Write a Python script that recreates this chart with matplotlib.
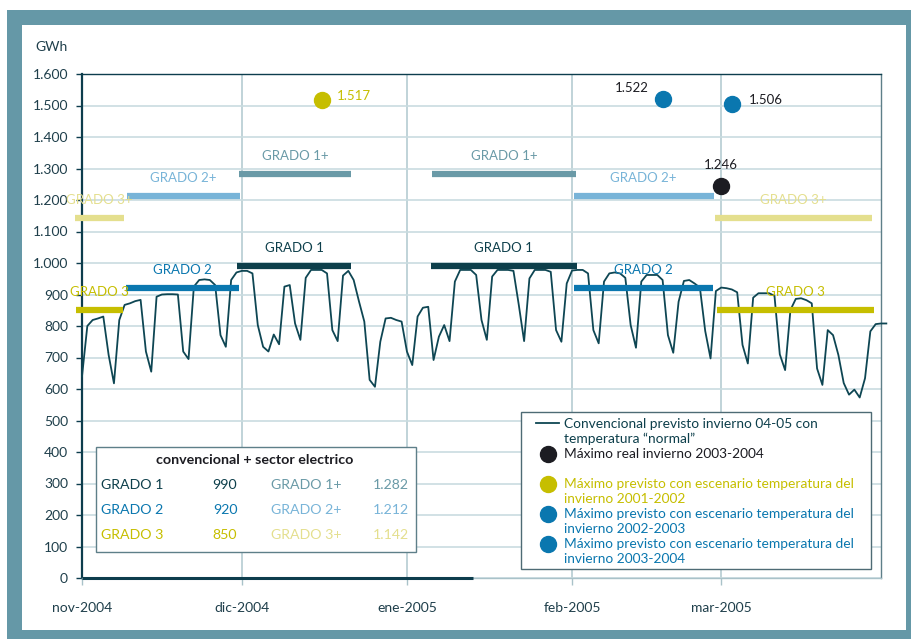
import matplotlib
matplotlib.use("Agg")
import matplotlib.pyplot as plt
import matplotlib.dates as mdates
from matplotlib.patches import Rectangle
from matplotlib.lines import Line2D
import pandas as pd
import numpy as np

plt.rcParams['font.family'] = ['Lato', 'DejaVu Sans']

# ---------------- data ----------------
start_date = "2004-11-01"
demand = [640, 800, 819, 824, 830, 708, 618, 819, 867, 872, 879, 883, 719, 655,
          893, 900, 901, 901, 900, 719, 695, 925, 946, 948, 946, 930, 771, 734,
          946, 970, 975, 975, 967, 803, 734, 719, 773, 742, 925, 930, 808, 756,
          953, 978, 978, 978, 967, 787, 752, 960, 975, 946, 878, 814, 629, 607,
          750, 824, 826, 819, 814, 719, 676, 830, 858, 861, 692, 766, 803, 752,
          941, 978, 978, 978, 962, 819, 756, 957, 978, 978, 978, 975, 867, 752,
          951, 978, 978, 978, 972, 787, 750, 935, 976, 978, 978, 967, 787, 745,
          941, 967, 970, 967, 953, 803, 731, 941, 962, 962, 962, 946, 771, 715,
          877, 943, 946, 935, 922, 784, 697, 911, 922, 920, 916, 907, 740, 681,
          890, 904, 904, 904, 896, 710, 660, 851, 886, 888, 882, 872, 665, 613,
          787, 771, 708, 619, 582, 598, 573, 634, 783, 806, 808, 808]
zero_segment_days = [0, 73.4]

band_labels = ["GRADO 3", "GRADO 3+", "GRADO 2", "GRADO 2+", "GRADO 1", "GRADO 1+",
               "GRADO 1", "GRADO 1+", "GRADO 2", "GRADO 2+", "GRADO 3", "GRADO 3+"]
band_values = [850, 1142, 920, 1212, 990, 1282, 990, 1282, 920, 1212, 850, 1142]
band_start_day = [-1.1, -1.3, 8.3, 8.4, 29.1, 29.5, 65.5, 65.7, 92.3, 92.3, 119.2, 118.8]
band_end_day = [7.7, 7.9, 29.5, 29.7, 50.5, 50.5, 92.9, 92.7, 118.4, 118.6, 148.7, 148.3]

point_dates = ["2004-12-16", "2005-02-18", "2005-03-03", "2005-03-01"]
point_values = [1517, 1522, 1506, 1246]
point_labels = ["1.517", "1.522", "1.506", "1.246"]

month_ticks = ["2004-11-01", "2004-12-01", "2005-01-01", "2005-02-01", "2005-03-01"]
month_labels = ["nov-2004", "dic-2004", "ene-2005", "feb-2005", "mar-2005"]

table_title = "convencional + sector electrico"
table_names = ["GRADO 1", "GRADO 2", "GRADO 3"]
table_vals = ["990", "920", "850"]
table_names_plus = ["GRADO 1+", "GRADO 2+", "GRADO 3+"]
table_vals_plus = ["1.282", "1.212", "1.142"]

legend_texts = [["Convencional previsto invierno 04-05 con", "temperatura \u201cnormal\u201d"],
                ["M\u00e1ximo real invierno 2003-2004"],
                ["M\u00e1ximo previsto con escenario temperatura del", "invierno 2001-2002"],
                ["M\u00e1ximo previsto con escenario temperatura del", "invierno 2002-2003"],
                ["M\u00e1ximo previsto con escenario temperatura del", "invierno 2003-2004"]]

# ---------------- styles ----------------
C_LINE = "#0E4653"
C_G1 = "#0D3F4B"
C_G1P = "#6A9AA7"
C_G2 = "#0A77AF"
C_G2P = "#78B4D8"
C_G3 = "#C6BE00"
C_G3P = "#E4DF8E"
C_BLACK = "#1C1C22"
C_FRAME = "#6598A7"
C_GRID = "#C9DCE0"
C_TXT = "#1F3F4B"
band_colors = {"GRADO 1": C_G1, "GRADO 1+": C_G1P, "GRADO 2": C_G2,
               "GRADO 2+": C_G2P, "GRADO 3": C_G3, "GRADO 3+": C_G3P}
point_colors = [C_G3, C_G2, C_G2, C_BLACK]
point_text_colors = [C_G3, C_BLACK, C_BLACK, C_BLACK]
point_offsets = [(15, 4), (-14, 11), (17, 4), (0, 21)]
point_ha = ["left", "right", "left", "center"]

W, H = 911, 639
fig = plt.figure(figsize=(W / 100, H / 100), dpi=100)
fig.patch.set_facecolor("white")


def fx(x):
    return x / W


def fy(y):
    return 1 - y / H


# frame
fig.add_artist(Rectangle((fx(7), fy(639)), fx(911) - fx(7), fy(10) - fy(639),
                         transform=fig.transFigure, facecolor=C_FRAME, edgecolor="none", zorder=-3))
fig.add_artist(Rectangle((fx(22), fy(630)), fx(906) - fx(22), fy(25) - fy(630),
                         transform=fig.transFigure, facecolor="white", edgecolor="none", zorder=-2))

ax = fig.add_axes([fx(82), fy(578), fx(881) - fx(82), fy(74) - fy(578)])
ax.set_facecolor("white")

base = mdates.date2num(pd.Timestamp(start_date))
dates = pd.date_range(start_date, periods=len(demand), freq="D")

ax.set_ylim(0, 1600)
ax.set_xlim(mdates.date2num(pd.Timestamp("2004-11-01")), mdates.date2num(pd.Timestamp("2005-03-31")))

# grid
ax.set_yticks(np.arange(0, 1601, 100))
ax.yaxis.set_major_formatter(plt.FuncFormatter(lambda v, p: f"{int(v):,}".replace(",", ".")))
ax.grid(axis="y", color=C_GRID, lw=1.2, zorder=0)
tick_nums = [mdates.date2num(pd.Timestamp(t)) for t in month_ticks]
ax.set_xticks(tick_nums)
ax.set_xticklabels(month_labels)
for t in tick_nums[1:]:
    ax.axvline(t, color="#B5CCD2", lw=1.2, zorder=0)

ax.spines["left"].set_color("#0D3D4D")
ax.spines["left"].set_linewidth(1.6)
ax.spines["top"].set_color("#0D3D4D")
ax.spines["top"].set_linewidth(1.0)
ax.spines["right"].set_color("#5E7F89")
ax.spines["right"].set_linewidth(1.0)
ax.spines["bottom"].set_color("#A9C2C9")
ax.spines["bottom"].set_linewidth(1.0)

ax.tick_params(axis="y", length=4, width=1, color="#0D3D4D", pad=6, labelsize=10, labelcolor=C_TXT)
ax.tick_params(axis="x", length=5, width=1, color="#A9C2C9", pad=12, labelsize=10, labelcolor=C_TXT)

# zero segment
ax.plot([base + zero_segment_days[0], base + zero_segment_days[1]], [0, 0],
        color="#0D3D4D", lw=2.2, zorder=3, clip_on=False, solid_capstyle="butt")

# main line
ax.plot(dates, demand, color=C_LINE, lw=1.3, zorder=4, clip_on=False)

# bands
for lab, v, s, e in zip(band_labels, band_values, band_start_day, band_end_day):
    col = band_colors[lab]
    ax.plot([base + s, base + e], [v, v], color=col, lw=4.5, solid_capstyle="butt",
            zorder=5, clip_on=False)
    ax.annotate(lab, xy=(base + (s + e) / 2, v), xytext=(0, 18), textcoords="offset pixels",
                ha="center", va="center", color=col, fontsize=9.5, zorder=6, annotation_clip=False)

# points
for d, v, lab, c, tc, off, ha in zip(point_dates, point_values, point_labels, point_colors,
                                     point_text_colors, point_offsets, point_ha):
    xd = mdates.date2num(pd.Timestamp(d))
    ax.plot([xd], [v], "o", color=c, ms=11.5, zorder=7, clip_on=False)
    ax.annotate(lab, xy=(xd, v), xytext=off, textcoords="offset pixels",
                ha=ha, va="center", color=tc, fontsize=9.5, zorder=7, annotation_clip=False)

# GWh label
fig.text(fx(51), fy(47), "GWh", ha="center", va="center", fontsize=10, color=C_TXT)

# table box
fig.add_artist(Rectangle((fx(96), fy(552)), fx(416) - fx(96), fy(447) - fy(552),
                         transform=fig.transFigure, facecolor="white", edgecolor="#5E7F89",
                         lw=1.0, zorder=2))
fig.text(fx(255), fy(460), table_title, ha="center", va="center", fontsize=10.3,
         fontweight="bold", color=C_BLACK, zorder=3)
row_y = [485, 510, 535]
name_cols = [C_G1, C_G2, C_G3]
plus_cols = [C_G1P, C_G2P, C_G3P]
for i in range(3):
    fig.text(fx(101), fy(row_y[i]), table_names[i], ha="left", va="center", fontsize=10.2,
             color=name_cols[i], zorder=3)
    fig.text(fx(225), fy(row_y[i]), table_vals[i], ha="center", va="center", fontsize=10.2,
             color=name_cols[i], zorder=3)
    fig.text(fx(271), fy(row_y[i]), table_names_plus[i], ha="left", va="center", fontsize=10.2,
             color=plus_cols[i], zorder=3)
    fig.text(fx(409), fy(row_y[i]), table_vals_plus[i], ha="right", va="center", fontsize=10.2,
             color=plus_cols[i], zorder=3)

# legend box
fig.add_artist(Rectangle((fx(521), fy(569)), fx(871) - fx(521), fy(412) - fy(569),
                         transform=fig.transFigure, facecolor="white", edgecolor="#4E6B75",
                         lw=1.0, zorder=2))
fig.add_artist(Line2D([fx(536), fx(559)], [fy(423), fy(423)], transform=fig.transFigure,
                      color=C_LINE, lw=1.3, zorder=3))
leg_y = [424, 454, 484, 514, 544]
leg_cols = [C_G1, C_BLACK, C_G3, C_G2, C_G2]
leg_marker = [None, C_BLACK, C_G3, C_G2, C_G2]
for y0, lines, col, mk in zip(leg_y, legend_texts, leg_cols, leg_marker):
    if mk is not None:
        fig.add_artist(Line2D([fx(548)], [fy(y0)], transform=fig.transFigure, marker="o",
                              ms=11.5, color=mk, lw=0, zorder=3))
    for j, ln in enumerate(lines):
        fig.text(fx(564), fy(y0 + 15 * j), ln, ha="left", va="center", fontsize=9.9,
                 color=col, zorder=3)

fig.savefig("out.png", dpi=100)
